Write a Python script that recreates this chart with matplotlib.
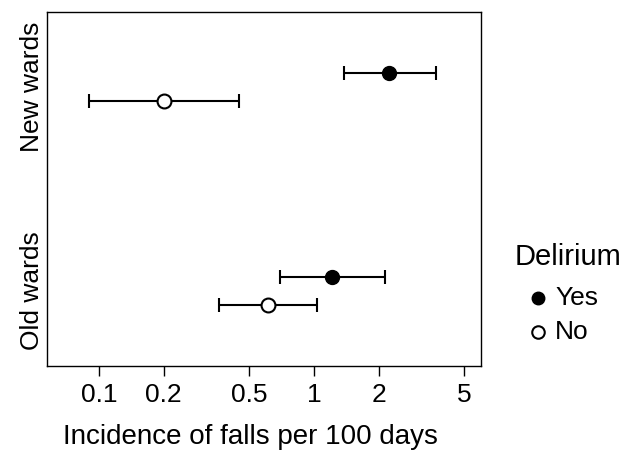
import numpy as np
import matplotlib.pyplot as plt
from matplotlib.lines import Line2D

plt.rcParams['font.family'] = ['Liberation Sans', 'DejaVu Sans']

wards = ['New wards', 'Old wards']
yes_rate = [2.23, 1.21]
yes_lo = [1.38, 0.695]
yes_hi = [3.69, 2.14]
no_rate = [0.20, 0.611]
no_lo = [0.090, 0.361]
no_hi = [0.448, 1.03]
xticks = [0.1, 0.2, 0.5, 1, 2, 5]

fig = plt.figure(figsize=(6.33, 4.5), dpi=100)
ax = fig.add_axes([0.0742, 0.1867, 0.6858, 0.7866])

ypos = np.array([2, 1])
off = 0.069

yes_rate = np.array(yes_rate)
no_rate = np.array(no_rate)
yes_err = [yes_rate - np.array(yes_lo), np.array(yes_hi) - yes_rate]
no_err = [no_rate - np.array(no_lo), np.array(no_hi) - no_rate]

ax.errorbar(yes_rate, ypos + off, xerr=yes_err, fmt='o', color='black',
            mfc='black', mec='black', ms=10, elinewidth=1.5, capsize=5,
            capthick=1.5, zorder=3)
ax.errorbar(no_rate, ypos - off, xerr=no_err, fmt='o', color='black',
            mfc='white', mec='black', mew=1.5, ms=10, elinewidth=1.5, capsize=5,
            capthick=1.5, zorder=3)

ax.set_xscale('log')
ax.set_xlim(0.0573, 5.98)
ax.set_ylim(0.63, 2.37)
ax.set_xticks(xticks)
ax.set_xticklabels(['0.1', '0.2', '0.5', '1', '2', '5'])
ax.minorticks_off()
ax.set_yticks(ypos)
ax.set_yticklabels(wards, rotation=90, va='center')
ax.tick_params(axis='x', length=7, width=1, labelsize=19, pad=5)
ax.tick_params(axis='y', length=0, labelsize=19, pad=2)
for s in ax.spines.values():
    s.set_linewidth(1)
ax.set_xlabel('Incidence of falls per 100 days', fontsize=20)
ax.xaxis.set_label_coords(0.469, -0.2)
ax.xaxis.label.set_va('center')

# legend, drawn by hand
def fx(px):
    return px / 633

def fy(py):
    return 1 - py / 450

fig.text(fx(568), fy(257), 'Delirium', fontsize=21, ha='center', va='center')
fig.add_artist(Line2D([fx(538)], [fy(298)], transform=fig.transFigure, marker='o',
                      ls='', mfc='black', mec='black', ms=9))
fig.add_artist(Line2D([fx(538)], [fy(332)], transform=fig.transFigure, marker='o',
                      ls='', mfc='white', mec='black', mew=1.5, ms=9))
fig.text(fx(555), fy(298), 'Yes', fontsize=19, ha='left', va='center')
fig.text(fx(555), fy(332), 'No', fontsize=19, ha='left', va='center')

fig.savefig('out.png', dpi=100)
